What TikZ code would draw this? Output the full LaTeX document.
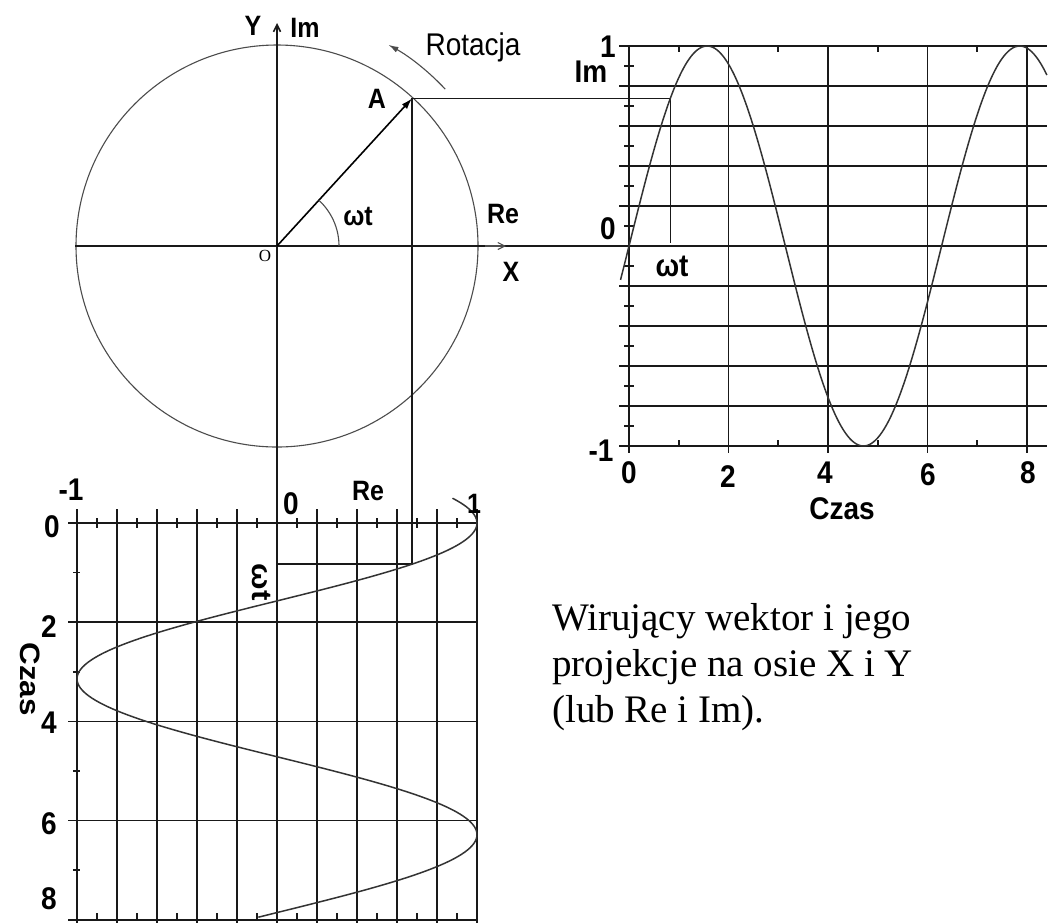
\documentclass[tikz,border=0pt]{standalone}
\usepackage{fontspec}
\setmainfont{Liberation Serif}
\newfontfamily\arialf{Liberation Sans}
\usetikzlibrary{arrows.meta}
\begin{document}
\begin{tikzpicture}[x=1pt,y=1pt,
  grid/.style={line width=1.6pt, black!90},
  thinline/.style={line width=1.1pt, black!70},
  curve/.style={line width=1.5pt, black!80},
  lbl/.style={font=\arialf\bfseries\fontsize{28}{30}\selectfont, inner sep=0pt, yscale=1.12},
  clbl/.style={font=\arialf\bfseries\fontsize{25}{28}\selectfont, inner sep=0pt, yscale=1.12},
  barb/.style={-{Straight Barb[length=7pt,width=7pt]}},
]
\useasboundingbox (0,0) rectangle (1056,-922);
\fill[white] (0,0) rectangle (1056,-922);

% ---------- phasor circle ----------
\coordinate (O) at (277,-246);
\coordinate (A) at (412,-98.4);
\coordinate (Pim) at (670.3,-98.4);
\coordinate (Pim0) at (670.3,-243);
\coordinate (Pre) at (412,-564.2);
\coordinate (Pre0) at (277,-564.2);
\draw[thinline] (O) circle (201);
\draw[grid] (75,-246) -- (619,-246);
\draw[thinline, barb] (485,-246) -- (506,-246);
\draw[grid, barb] (277,-930) -- (277,-23);
\draw[line width=1.6pt, -{Latex[length=11pt,width=7pt]}] (O) -- (A);
\draw[thinline] (339,-246) arc[start angle=0, end angle=47.5, radius=62];
\draw[thinline, -{Latex[length=10pt,width=6pt]}] ([shift={(43:230)}]O) arc[start angle=43, end angle=61, radius=230];
\draw[grid] (A) -- (Pim) -- (Pim0);
\draw[grid] (A) -- (Pre) -- (Pre0);

\node[clbl] (ly) at (253,-26) {Y};
\node[clbl] (lim) at (305,-28) {Im};
\node[font=\arialf\fontsize{28}{30}\selectfont, inner sep=0pt, yscale=1.12] (rot) at (473,-47) {Rotacja};
\node[clbl] (la) at (377,-99) {A};
\node[clbl] (lwt) at (358,-216) {ωt};
\node[clbl] (lre) at (503,-214) {Re};
\node[clbl] (lx) at (511,-272) {X};
\node[font=\fontsize{17}{19}\selectfont, inner sep=0pt] (lo) at (265,-256) {O};

% ---------- right graph (Im vs time) ----------
\foreach \k in {0,...,10} \draw[grid] (619,{-46-40*\k}) -- (1047,{-46-40*\k});
\foreach \t in {0,2,4,6,8} \draw[grid] ({629+49.75*\t},-46) -- ({629+49.75*\t},-453);
\foreach \k in {0,...,9} \draw[grid] (624,{-66-40*\k}) -- (634,{-66-40*\k});
\foreach \t in {1,3,5,7} {
  \draw[grid] ({629+49.75*\t},-46) -- ++(0,-6);
  \draw[grid] ({629+49.75*\t},-446) -- ++(0,6);
}
\draw[curve] plot[domain=-0.17:8.4, samples=200, smooth] ({629+49.75*\x},{-246+200*sin(\x r)});

\node[lbl] (r1) at (608,-47) {1};
\node[lbl] (rim) at (591,-72) {Im};
\node[lbl] (r0) at (608,-229) {0};
\node[lbl] (rm1) at (601,-451) {-1};
\node[lbl] (rwt) at (672,-266) {ωt};
\node[lbl] (rx0) at (629,-473) {0};
\node[lbl] (rx2) at (728,-477) {2};
\node[lbl] (rx4) at (825,-473) {4};
\node[lbl] (rx6) at (928,-475) {6};
\node[lbl] (rx8) at (1028,-473) {8};
\node[lbl] (rcz) at (842,-509) {Czas};

% ---------- bottom graph (Re vs time) ----------
\foreach \k in {0,...,10} \draw[grid] ({77+40*\k},-509) -- ({77+40*\k},-930);
\foreach \t in {0,2,4,6,8} \draw[grid] (68,{-523-49.6*\t}) -- (477,{-523-49.6*\t});
\foreach \k in {0,...,9} {
  \draw[grid] ({97+40*\k},-518) -- ({97+40*\k},-528);
  \draw[grid] ({97+40*\k},-920) -- ({97+40*\k},-913);
}
\foreach \t in {1,3,5,7} \draw[grid] (73,{-523-49.6*\t}) -- (80,{-523-49.6*\t});
\draw[curve] plot[domain=-0.5:7.95, samples=200, smooth] ({277+200*cos(\x r)},{-523-49.6*\x});

\node[lbl] (bm1) at (71,-490) {-1};
\node[lbl] (bx0) at (291,-504) {0};
\node[clbl] (bre) at (368,-491) {Re};
\node[clbl] (bx1) at (474,-504) {1};
\node[lbl] (by0) at (52,-527) {0};
\node[lbl] (by2) at (49,-627) {2};
\node[lbl] (by4) at (49,-723) {4};
\node[lbl] (by6) at (49,-824) {6};
\node[lbl] (by8) at (49,-899) {8};
\node[lbl, rotate=-90] (bcz) at (30,-679) {Czas};
\node[lbl, rotate=-90] (bwt) at (261,-582) {ωt};

% ---------- caption ----------
\node[anchor=north west, align=left, inner sep=0pt, font=\fontsize{39}{46}\selectfont] (cap) at (552,-603)
  {Wirujący wektor i jego\\projekcje na osie X i Y\\(lub Re i Im).};
\end{tikzpicture}
\end{document}
